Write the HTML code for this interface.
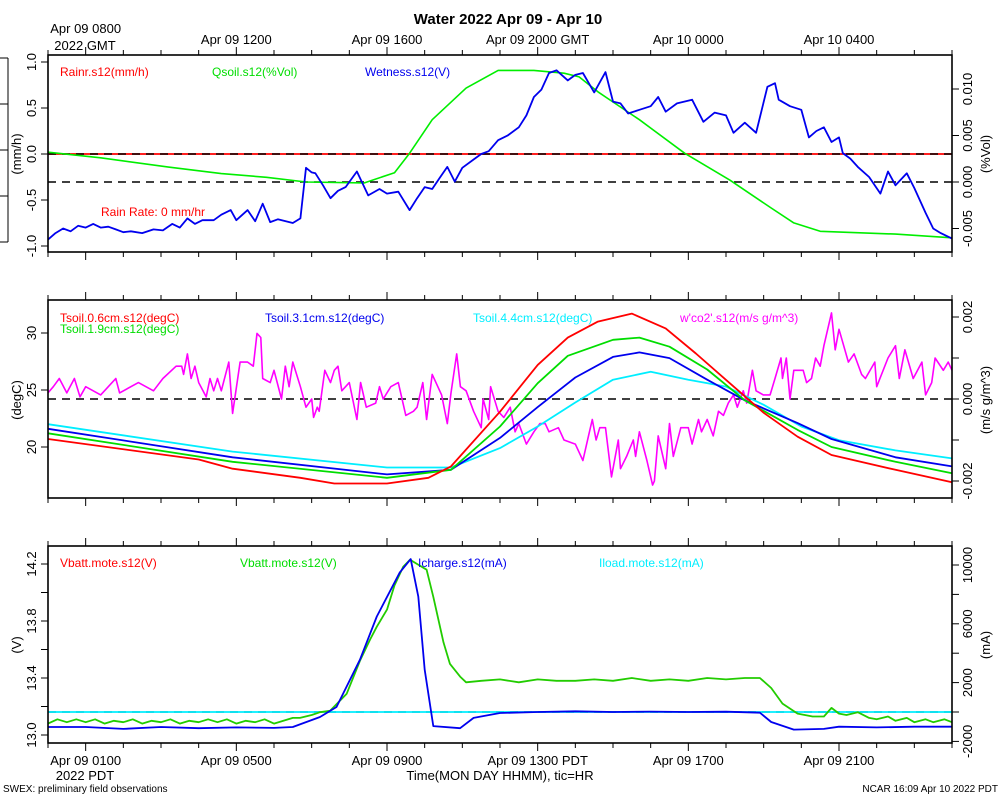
<!DOCTYPE html>
<html><head><meta charset="utf-8"><style>
html,body{margin:0;padding:0;background:#fff;}
svg{display:block;font-family:"Liberation Sans",sans-serif;}
</style></head><body>
<svg id="chart" width="1000" height="800" viewBox="0 0 1000 800">
<rect x="0" y="0" width="1000" height="800" fill="#fff"/>
<text x="508" y="24" font-size="15" font-weight="bold" text-anchor="middle">Water 2022 Apr 09 - Apr 10</text>
<g id="stub" stroke="#000" stroke-width="1">
<line x1="8" y1="58" x2="8" y2="242"/><line x1="0" y1="58" x2="8" y2="58"/><line x1="0" y1="104" x2="8" y2="104"/><line x1="0" y1="150" x2="8" y2="150"/><line x1="0" y1="196" x2="8" y2="196"/><line x1="0" y1="242" x2="8" y2="242"/>
</g>
<g id="layer"></g>
<text x="3" y="792" font-size="10">SWEX: preliminary field observations</text>
<text x="998" y="792" font-size="10" text-anchor="end">NCAR 16:09 Apr 10 2022 PDT</text>
<text x="500" y="780" font-size="13" text-anchor="middle">Time(MON DAY HHMM), tic=HR</text>
</svg>
<script>
// ---- data (hours since Apr 09 0000 PDT) ----
const wetH = [0,0.2,0.4,0.6,0.8,1.0,1.2,1.4,1.6,1.8,2.0,2.2,2.5,2.8,3.05,3.3,3.5,3.7,3.9,4.1,4.4,4.6,4.85,5.0,5.3,5.5,5.7,5.9,6.1,6.5,6.7,6.85,7.0,7.1,7.3,7.5,7.7,7.9,8.2,8.5,8.8,9.0,9.3,9.6,9.8,10.0,10.2,10.4,10.6,10.8,11.0,11.3,11.5,11.7,11.95,12.2,12.5,12.7,12.9,13.1,13.3,13.5,13.8,14.0,14.2,14.5,14.8,15.0,15.2,15.4,15.7,16.0,16.2,16.4,16.7,17.1,17.4,17.7,18.0,18.2,18.5,18.8,19.1,19.3,19.4,19.7,20.0,20.2,20.4,20.6,20.8,21.0,21.1,21.3,21.5,21.8,22.1,22.3,22.5,22.8,23.0,23.3,23.5,23.7,24.0];
const wetV = [-0.93,-0.86,-0.81,-0.84,-0.78,-0.80,-0.76,-0.80,-0.79,-0.82,-0.85,-0.84,-0.86,-0.82,-0.83,-0.76,-0.80,-0.70,-0.76,-0.72,-0.72,-0.66,-0.61,-0.72,-0.61,-0.73,-0.54,-0.74,-0.71,-0.75,-0.70,-0.15,-0.20,-0.21,-0.34,-0.48,-0.40,-0.36,-0.19,-0.45,-0.38,-0.43,-0.41,-0.61,-0.48,-0.36,-0.38,-0.26,-0.14,-0.30,-0.15,-0.06,0.0,0.03,0.15,0.20,0.29,0.42,0.62,0.70,0.88,0.91,0.80,0.86,0.88,0.67,0.89,0.57,0.55,0.44,0.48,0.52,0.62,0.46,0.55,0.59,0.35,0.45,0.42,0.23,0.34,0.23,0.73,0.77,0.59,0.52,0.48,0.18,0.25,0.29,0.13,0.18,0.01,-0.05,-0.14,-0.25,-0.43,-0.19,-0.34,-0.21,-0.37,-0.64,-0.81,-0.86,-0.92];
const qsH = [0,1.4,3.2,4.6,5.8,6.85,8.4,9.2,9.6,10.2,11.1,11.95,12.2,12.9,13.7,14.1,14.6,15.0,15.7,16.9,18.1,19.2,19.8,20.5,22.5,24.0];
const qsV = [0.0032,0.0026,0.0016,0.0009,0.0005,0.0,-0.0001,0.001,0.0031,0.0067,0.0101,0.012,0.012,0.012,0.0117,0.0113,0.0097,0.0086,0.0067,0.0031,0.0002,-0.0028,-0.0044,-0.0053,-0.0056,-0.0060];
const rainH = [0,24];
const rainV = [0,0];
const t06H = [0,4.0,4.9,6.7,7.6,9.0,10.1,10.7,12.0,13.0,13.8,14.6,15.5,16.4,17.2,18.1,19.0,19.9,20.8,22.5,24.0];
const t06V = [20.7,18.9,18.1,17.3,16.8,16.8,17.3,18.3,23.1,27.2,29.6,31.0,31.7,30.4,28.2,25.6,23.0,20.9,19.3,18.0,16.9];
const t19H = [0,4.9,9.0,10.7,12.0,13.0,13.8,15.0,15.7,16.5,17.5,18.5,19.9,20.8,22.5,24.0];
const t19V = [21.2,18.7,17.3,18.0,21.8,25.6,28.0,29.4,29.6,28.8,26.8,24.1,21.5,20.0,18.7,17.7];
const t31H = [0,4.9,9.0,10.7,12.0,13.0,14.0,15.0,15.7,16.5,17.5,18.5,19.9,20.8,22.5,24.0];
const t31V = [21.6,19.1,17.6,18.0,20.8,23.5,26.1,27.9,28.3,27.8,25.9,24.1,22.1,20.7,19.1,18.3];
const t44H = [0,4.9,9.0,10.7,12.0,13.0,14.0,15.0,16.0,17.0,18.0,19.0,20.0,21.0,22.5,24.0];
const t44V = [22.0,19.6,18.2,18.2,19.9,21.8,23.9,25.9,26.6,25.9,25.3,23.7,21.8,20.6,19.7,19.0];
const co2H = [0,0.14,0.3,0.5,0.7,0.85,1.0,1.2,1.4,1.8,1.9,2.4,2.8,3.05,3.4,3.55,3.6,3.7,3.8,3.9,4.0,4.2,4.3,4.4,4.5,4.6,4.8,4.9,5.1,5.3,5.45,5.55,5.65,5.7,5.9,6.0,6.2,6.3,6.4,6.5,6.7,6.85,7.0,7.05,7.15,7.2,7.35,7.5,7.6,7.7,7.8,8.0,8.2,8.3,8.45,8.7,8.8,8.9,9.1,9.3,9.5,9.7,9.8,9.95,10.05,10.2,10.45,10.6,10.7,10.85,10.95,11.1,11.3,11.5,11.55,11.7,11.75,11.95,12.1,12.27,12.4,12.5,12.7,12.9,13.06,13.2,13.3,13.55,13.7,14.0,14.2,14.35,14.45,14.55,14.65,14.8,14.96,15.14,15.2,15.36,15.54,15.6,15.7,15.9,16.05,16.1,16.2,16.4,16.5,16.6,16.8,17.0,17.1,17.27,17.35,17.5,17.66,17.8,17.93,18.06,18.2,18.3,18.46,18.55,18.7,18.8,18.99,19.17,19.3,19.46,19.5,19.6,19.7,19.8,20.05,20.14,20.27,20.38,20.5,20.6,20.8,20.9,21.0,21.25,21.4,21.6,21.7,21.95,22.0,22.3,22.5,22.6,22.75,22.97,23.2,23.3,23.46,23.55,23.77,23.9,24.0];
const co2V = [0.00015,0.0003,0.0005,0.00015,0.0005,0.00005,0.0003,0.0002,0.0001,0.0005,0.00015,0.0004,0.0002,0.0005,0.0008,0.0008,0.0006,0.0011,0.0005,0.0008,0.0004,0.00005,0.0005,0.0002,0.0005,0.0002,0.0009,-0.00035,0.0009,0.0009,0.0008,0.0016,0.0015,0.0005,0.0004,0.0007,0.0,0.0008,0.0003,0.0009,0.0003,-0.0002,0.0,-0.00045,-0.0002,-0.0003,0.0007,0.0004,0.0007,0.0008,0.0002,0.0004,-0.0005,0.0004,-0.0002,-0.0001,0.0003,0.0,0.0003,0.0004,-0.0004,-0.0003,-0.0002,0.0004,-0.0005,0.0006,0.0001,-0.0006,0.00015,0.0011,0.0003,0.0002,-0.0003,-0.0007,0.0,-0.0005,0.0003,-0.0003,-0.00045,-0.0002,-0.0008,-0.0006,-0.0011,-0.0008,-0.0006,-0.0006,-0.0008,-0.0007,-0.0010,-0.0011,-0.0015,-0.0009,-0.0005,-0.001,-0.0007,-0.0007,-0.0019,-0.0010,-0.0017,-0.0014,-0.001,-0.0014,-0.0008,-0.0015,-0.0021,-0.002,-0.0009,-0.0017,-0.0006,-0.0014,-0.0007,-0.0007,-0.0011,-0.0005,-0.0008,-0.0005,-0.0009,-0.0003,-0.0004,-0.0001,0.0001,-0.0002,0.0002,-0.0001,0.0007,0.0002,0.0001,0.0001,0.0005,0.001,0.0005,0.001,0.0,0.0007,0.0007,0.0004,0.0005,0.001,0.0008,0.0013,0.0021,0.0012,0.0017,0.0009,0.0011,0.0006,0.0005,0.0009,0.0003,0.001,0.0013,0.0005,0.0012,0.0005,0.0009,0.0001,0.0004,0.001,0.0007,0.0009,0.0007];
const vbH = [0,0.25,0.5,0.75,1,1.25,1.5,1.75,2,2.25,2.5,2.75,3,3.25,3.5,3.75,4,4.25,4.5,4.75,5,5.25,5.5,5.75,6,6.25,6.5,6.69,7.0,7.22,7.49,7.93,8.28,8.55,8.73,9.0,9.2,9.43,9.61,9.8,10.05,10.23,10.5,10.67,10.94,11.1,11.5,12,12.5,13,13.5,14,14.5,15,15.5,16,16.5,17,17.5,18,18.5,18.9,19.2,19.5,19.9,20.3,20.6,20.8,21.0,21.2,21.5,21.8,22,22.3,22.5,22.8,23,23.3,23.5,23.8,24];
const vbV = [13.08,13.11,13.09,13.11,13.09,13.11,13.08,13.10,13.09,13.11,13.08,13.10,13.09,13.11,13.08,13.10,13.09,13.11,13.09,13.11,13.08,13.10,13.09,13.11,13.08,13.10,13.12,13.12,13.14,13.16,13.17,13.29,13.52,13.67,13.76,13.88,14.05,14.18,14.23,14.20,14.16,13.97,13.65,13.5,13.41,13.37,13.38,13.39,13.37,13.39,13.38,13.38,13.39,13.38,13.40,13.38,13.39,13.38,13.40,13.39,13.40,13.40,13.33,13.22,13.15,13.13,13.13,13.19,13.15,13.14,13.16,13.12,13.11,13.13,13.10,13.12,13.09,13.11,13.09,13.11,13.09];
const icH = [0,1,2,3,4,5,6,6.5,7.22,7.66,8.28,8.73,9.34,9.63,9.83,10.0,10.23,10.94,11.3,12,13,14,15,16,17,18,18.9,19.2,19.8,20.6,21,22,23,24];
const icV = [-1020,-1020,-1150,-1020,-1100,-1050,-1080,-1020,-340,340,3550,6500,9500,10400,7850,2870,-960,-1100,-400,-70,0,50,0,30,0,20,-50,-680,-1200,-1150,-1000,-1050,-1000,-1000];
const ilH = [0,24];
const ilV = [0,0];

const xTickHours = [1,5,9,13,17,21];
const botLabels = ["Apr 09 0100","Apr 09 0500","Apr 09 0900","Apr 09 1300 PDT","Apr 09 1700","Apr 09 2100"];
const topLabels = ["Apr 09 0800","Apr 09 1200","Apr 09 1600","Apr 09 2000 GMT","Apr 10 0000","Apr 10 0400"];

const p1LeftTicks = [1.0,0.5,0.0,-0.5,-1.0];
const p1LeftLabels = ["1.0","0.5","0.0","-0.5","-1.0"];
const p1RightTicks = [0.010,0.005,0.000,-0.005];
const p1RightLabels = ["0.010","0.005","0.000","-0.005"];
const p2LeftTicks = [30,25,20];
const p2LeftLabels = ["30","25","20"];
const p2RightTicks = [0.002,0.001,0,-0.001,-0.002];
const p2RightLabels = ["0.002","","0.000","","-0.002"];
const p3LeftTicks = [14.2,14.0,13.8,13.6,13.4,13.2,13.0];
const p3LeftLabels = ["14.2","","13.8","","13.4","","13.0"];
const p3RightTicks = [10000,8000,6000,4000,2000,0,-2000];
const p3RightLabels = ["10000","","6000","","2000","","-2000"];

// ---- geometry ----
const X0=48, X1=952;
const xs = h => X0 + (X1-X0)*h/24;
const NS="http://www.w3.org/2000/svg";
const layer=document.getElementById('layer');
function mk(tag, attrs, parent){const e=document.createElementNS(NS,tag);for(const k in attrs)e.setAttribute(k,attrs[k]);(parent||layer).appendChild(e);return e;}
function lin(v0,y0,v1,y1){return v=>y0+(v-v0)*(y1-y0)/(v1-v0);}

const panels=[
 {top:55,bot:252,ly:lin(0,154,1,62),ry:lin(0,182,0.01,89)},
 {top:300,bot:498,ly:lin(25,390,30,333),ry:lin(0,399,0.002,317)},
 {top:546,bot:743,ly:lin(13,735,14.2,564),ry:lin(0,712,10000,565)}
];

function series(H,V,yf,color,name,w){
  let d='';
  for(let i=0;i<H.length;i++){d+=(i?'L':'M')+xs(H[i]).toFixed(1)+','+yf(V[i]).toFixed(1);}
  const p=mk('path',{d:d,fill:'none',stroke:color,'stroke-width':w||1.8,'stroke-linejoin':'round'});
  
  
}
function dashed(y,name){
  const l=mk('line',{x1:X0,x2:X1,y1:y,y2:y,stroke:'#000','stroke-width':1.6,'stroke-dasharray':'8,6'});
  
  
}
function text(x,y,s,color,name,extra){
  const t=mk('text',Object.assign({x:x,y:y,fill:color,'font-size':12},extra||{}));
  t.textContent=s;
  
  
  return t;
}

panels.forEach((P,pi)=>{
  const g=mk('g',{});
  
  
  for(let h=0;h<=24;h++){
    const x=xs(h), major=xTickHours.includes(h);
    const L=major?8:5;
    mk('line',{x1:x,x2:x,y1:P.top,y2:P.top-L,stroke:'#000','stroke-width':1},g);
    mk('line',{x1:x,x2:x,y1:P.bot,y2:P.bot+L,stroke:'#000','stroke-width':1},g);
  }
  const lt=[p1LeftTicks,p2LeftTicks,p3LeftTicks][pi], ll=[p1LeftLabels,p2LeftLabels,p3LeftLabels][pi];
  const rt=[p1RightTicks,p2RightTicks,p3RightTicks][pi], rl=[p1RightLabels,p2RightLabels,p3RightLabels][pi];
  lt.forEach((v,i)=>{const y=P.ly(v);mk('line',{x1:X0-7,x2:X0,y1:y,y2:y,stroke:'#000'},g);
    if(ll[i]){text(36,y,ll[i],'#000','left-tick-label',{'font-size':13,'text-anchor':'middle',transform:'rotate(-90 36 '+y+')'});}});
  rt.forEach((v,i)=>{const y=P.ry(v);mk('line',{x1:X1,x2:X1+7,y1:y,y2:y,stroke:'#000'},g);
    if(rl[i]){text(972,y,rl[i],'#000','right-tick-label',{'font-size':13,'text-anchor':'middle',transform:'rotate(-90 972 '+y+')'});}});
});

const P1=panels[0],P2=panels[1],P3=panels[2];
dashed(P1.ry(0),'p1-zero-line-right');
series(rainH,rainV,P1.ly,'#ff0000','rain-rate-line',1.8);
dashed(P1.ly(0),'p1-zero-line-left');
series(qsH,qsV,P1.ry,'#00ee00','qsoil-line',1.6);
series(wetH,wetV,P1.ly,'#0000ee','wetness-line',1.8);
text(60,76,'Rainr.s12(mm/h)','#ff0000','legend-rainr');
text(212,76,'Qsoil.s12(%Vol)','#00dd00','legend-qsoil');
text(365,76,'Wetness.s12(V)','#0000ee','legend-wetness');
text(101,216,'Rain Rate: 0 mm/hr','#ff0000','rain-rate-note');
text(21,154,'(mm/h)','#000','p1-left-axis-title',{'font-size':13,'text-anchor':'middle',transform:'rotate(-90 21 154)'});
text(990,154,'(%Vol)','#000','p1-right-axis-title',{'font-size':13,'text-anchor':'middle',transform:'rotate(-90 990 154)'});

dashed(P2.ry(0),'p2-zero-line');
series(co2H,co2V,P2.ry,'#ff00ff','wco2-line',1.6);
series(t44H,t44V,P2.ly,'#00eeff','tsoil-4.4cm-line',1.8);
series(t31H,t31V,P2.ly,'#0000ee','tsoil-3.1cm-line',1.8);
series(t19H,t19V,P2.ly,'#00dd00','tsoil-1.9cm-line',1.8);
series(t06H,t06V,P2.ly,'#ff0000','tsoil-0.6cm-line',1.8);
text(60,322,'Tsoil.0.6cm.s12(degC)','#ff0000','legend-tsoil-0.6cm');
text(60,333,'Tsoil.1.9cm.s12(degC)','#00dd00','legend-tsoil-1.9cm');
text(265,322,'Tsoil.3.1cm.s12(degC)','#0000ee','legend-tsoil-3.1cm');
text(473,322,'Tsoil.4.4cm.s12(degC)','#00eeff','legend-tsoil-4.4cm');
text(680,322,"w'co2'.s12(m/s g/m^3)",'#ff00ff','legend-wco2');
text(21,400,'(degC)','#000','p2-left-axis-title',{'font-size':13,'text-anchor':'middle',transform:'rotate(-90 21 400)'});
text(990,400,'(m/s g/m^3)','#000','p2-right-axis-title',{'font-size':13,'text-anchor':'middle',transform:'rotate(-90 990 400)'});

dashed(P3.ry(0),'p3-zero-line');
series(ilH,ilV,P3.ry,'#00eeff','iload-line',1.8);
series(vbH,vbV,P3.ly,'#22cc00','vbatt-line',1.8);
series(icH,icV,P3.ry,'#0000ee','icharge-line',1.8);
text(60,567,'Vbatt.mote.s12(V)','#ff0000','legend-vbatt-red');
text(240,567,'Vbatt.mote.s12(V)','#00dd00','legend-vbatt-green');
text(418,567,'Icharge.s12(mA)','#0000ee','legend-icharge');
text(599,567,'Iload.mote.s12(mA)','#00eeff','legend-iload');
text(21,645,'(V)','#000','p3-left-axis-title',{'font-size':13,'text-anchor':'middle',transform:'rotate(-90 21 645)'});
text(990,645,'(mA)','#000','p3-right-axis-title',{'font-size':13,'text-anchor':'middle',transform:'rotate(-90 990 645)'});

panels.forEach((P,pi)=>{
  const r=mk('rect',{x:X0,y:P.top,width:X1-X0,height:P.bot-P.top,fill:'none',stroke:'#000','stroke-width':1.6});
  
  
});

xTickHours.forEach((h,i)=>{
  text(xs(h),765,botLabels[i],'#000','bottom-time-label',{'font-size':13,'text-anchor':'middle'});
  const ty = i===0?33:44;
  text(xs(h),ty,topLabels[i],'#000','top-gmt-label',{'font-size':13,'text-anchor':'middle'});
});
text(85,50,'2022 GMT','#000','top-year-label',{'font-size':13,'text-anchor':'middle'});
text(85,780,'2022 PDT','#000','bottom-year-label',{'font-size':13,'text-anchor':'middle'});
</script>
</body></html>
